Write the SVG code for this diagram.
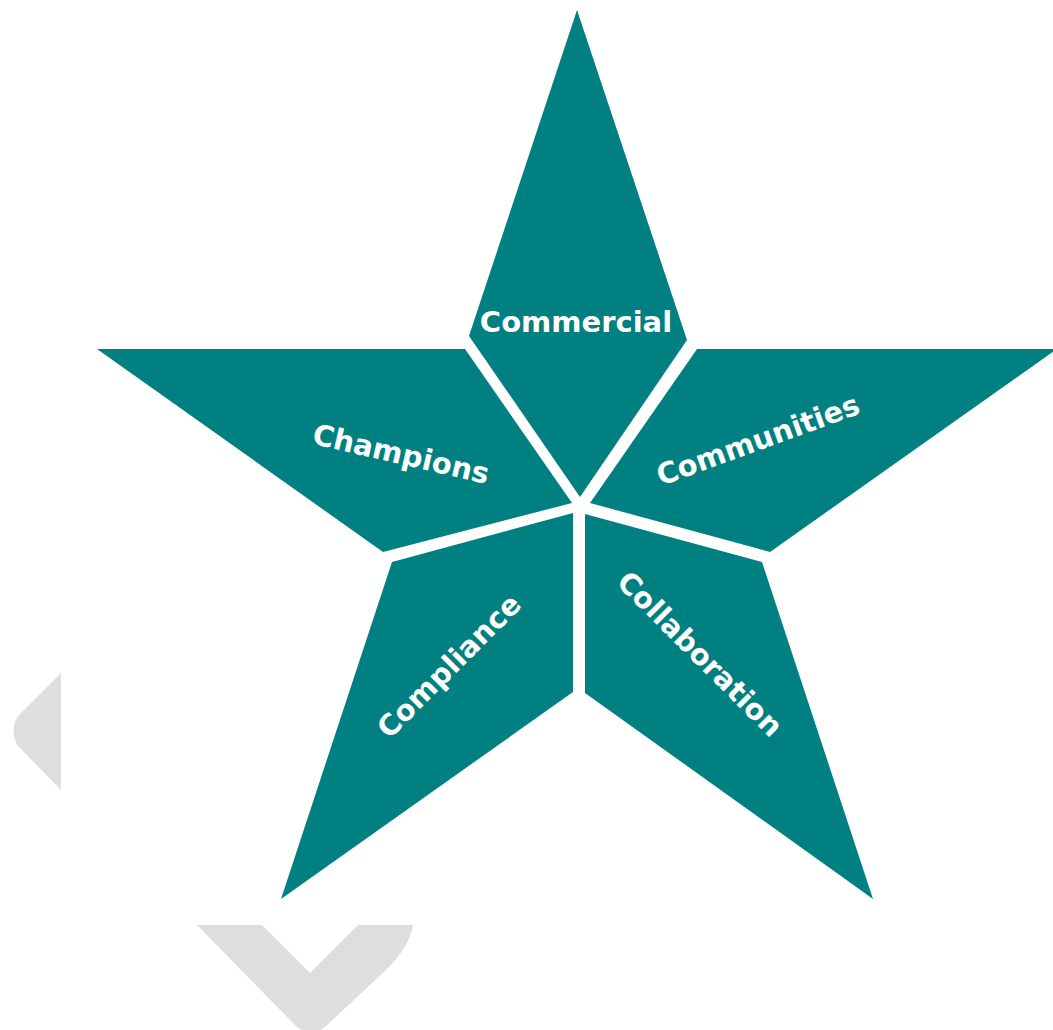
<svg xmlns="http://www.w3.org/2000/svg" width="1053" height="1030" viewBox="0 0 1053 1030">
<style>
.bg{fill:#dedede}
.arm{fill:#008080}
.lbl{font-family:"DejaVu Sans","Verdana",sans-serif;font-weight:bold;font-size:29px;fill:#ffffff;text-anchor:middle}
</style>
<rect width="1053" height="1030" fill="#ffffff"/>
<g id="background">
<path class="bg" d="M61,673 L18,716 Q9,731 18,746 L61,790 Z"/>
<path class="bg" d="M197,925 L262,925 L310,973 L358,925 L413,925 C410,942 400,956 386,970 L326,1026 Q310,1040 294,1024 Z"/>
</g>
<g id="commercial">
<polygon class="arm" points="577,10 687,340 580,497 469,336"/>
<text class="lbl" x="576" y="332">Commercial</text>
</g>
<g id="champions">
<polygon class="arm" points="97,349 465,349 572,503 383,552"/>
<text class="lbl" transform="translate(401,454) rotate(13)" x="0" y="10">Champions</text>
</g>
<g id="communities">
<polygon class="arm" points="697,349 1057,349 770,552 590,503"/>
<text class="lbl" transform="translate(758,440) rotate(-20)" x="0" y="10">Communities</text>
</g>
<g id="compliance">
<polygon class="arm" points="392,562 573,513 573,692 281,899"/>
<text class="lbl" transform="translate(449,666) rotate(-45)" x="0" y="10">Compliance</text>
</g>
<g id="collaboration">
<polygon class="arm" points="585,514 762,562 873,899 585,693"/>
<text class="lbl" transform="translate(700,654) rotate(45)" x="0" y="10">Collaboration</text>
</g>
<g id="connectors"></g>
</svg>
